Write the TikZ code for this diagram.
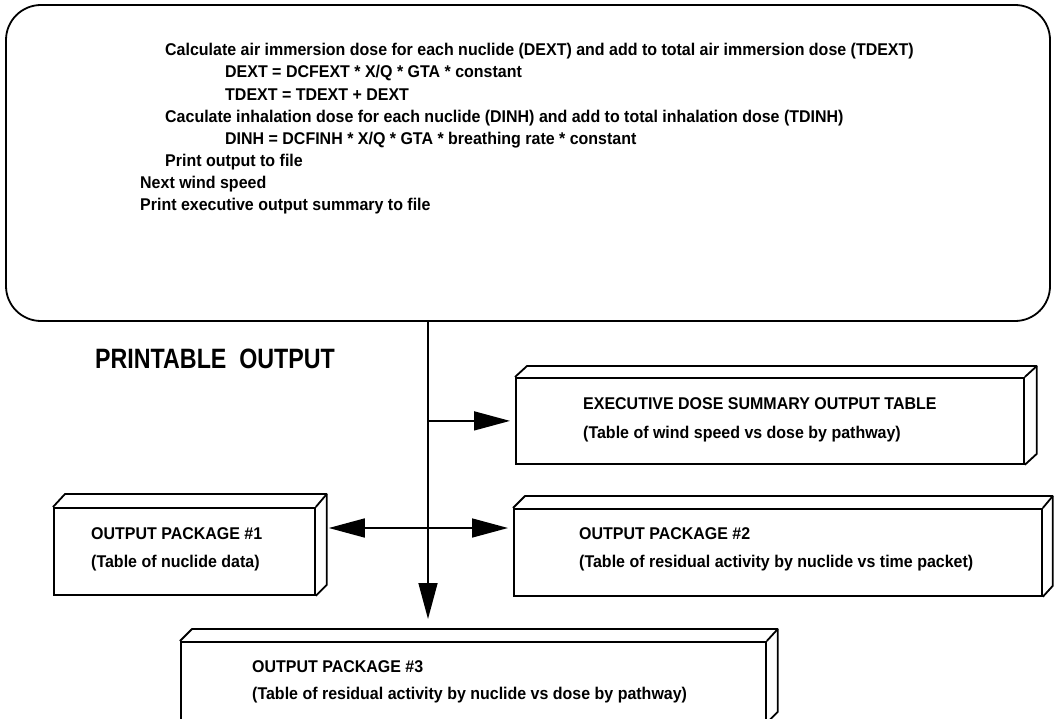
\documentclass[tikz,border=0pt]{standalone}
\usepackage{fontspec}
\setmainfont{Liberation Sans}
\newfontfamily\scanfont{Liberation Sans}[FakeStretch=0.94]
\newfontfamily\headfont{Liberation Sans}[FakeStretch=0.83]
\usetikzlibrary{arrows.meta,calc}
\begin{document}
\begin{tikzpicture}[x=1pt,y=-1pt,
  face/.style={draw, line width=1.8pt, line join=round},
  front/.style={draw, line width=1.8pt, inner sep=0pt, anchor=north west},
  conn/.style={line width=1.6pt},
  tipa/.style={-{Triangle[length=36pt,width=19pt]}},
  tipb/.style={{Triangle[length=36pt,width=19pt]}-{Triangle[length=36pt,width=19pt]}},
  txt/.style={anchor=west, inner sep=0pt, text height=12pt, text depth=3pt,
              font=\scanfont\bfseries\fontsize{17}{20}\selectfont},
  headtxt/.style={anchor=west, inner sep=0pt, font=\headfont\bfseries\fontsize{28}{32}\selectfont}
]
\useasboundingbox (0,0) rectangle (1054,719);
\fill[white] (0,0) rectangle (1054,719);

% top rounded box
\node[draw, line width=1.8pt, rounded corners=35pt, minimum width=1044pt,
      minimum height=316pt, inner sep=0pt] (top) at (528,163) {};

\node[txt] (t1) at (165,51)  {Calculate air immersion dose for each nuclide (DEXT) and add to total air immersion dose (TDEXT)};
\node[txt] (t2) at (225,73)  {DEXT = DCFEXT * X/Q * GTA * constant};
\node[txt] (t3) at (225,96)  {TDEXT = TDEXT + DEXT};
\node[txt] (t4) at (165,118) {Caculate inhalation dose for each nuclide (DINH) and add to total inhalation dose (TDINH)};
\node[txt] (t5) at (225,140) {DINH = DCFINH * X/Q * GTA * breathing rate * constant};
\node[txt] (t6) at (165,162) {Print output to file};
\node[txt] (t7) at (140,184) {Next wind speed};
\node[txt] (t8) at (140,206) {Print executive output summary to file};

% heading
\node[headtxt] (head) at (95,359) {PRINTABLE\ \ OUTPUT};

% executive box
\node[front, minimum width=508pt, minimum height=86pt] (exec) at (515,377) {};
\draw[face] (exec.north west) -- ++(12,-11) -- ($(exec.north east)+(12,-11)$)
            -- ($(exec.south east)+(12,-11)$) -- (exec.south east);
\draw[face] (exec.north east) -- ++(12,-11);
\node[txt] (e1) at (583,405) {EXECUTIVE DOSE SUMMARY OUTPUT TABLE};
\node[txt] (e2) at (583,434) {(Table of wind speed vs dose by pathway)};

% output package 1
\node[front, minimum width=261pt, minimum height=87pt] (pk1) at (53,507) {};
\draw[face] (pk1.north west) -- ++(12,-13) -- ($(pk1.north east)+(11,-13)$)
            -- ($(pk1.south east)+(11,-11)$) -- (pk1.south east);
\draw[face] (pk1.north east) -- ++(11,-13);
\node[txt] (p1a) at (91,535) {OUTPUT PACKAGE \#1};
\node[txt] (p1b) at (91,563) {(Table of nuclide data)};

% output package 2
\node[front, minimum width=528pt, minimum height=87pt] (pk2) at (513,508) {};
\draw[face] (pk2.north west) -- ++(12,-12) -- ($(pk2.north east)+(10,-12)$)
            -- ($(pk2.south east)+(10,-11)$) -- (pk2.south east);
\draw[face] (pk2.north east) -- ++(10,-12);
\node[txt] (p2a) at (579,535) {OUTPUT PACKAGE \#2};
\node[txt] (p2b) at (579,563) {(Table of residual activity by nuclide vs time packet)};

% output package 3
\node[front, minimum width=585pt, minimum height=80pt] (pk3) at (180,641) {};
\draw[face] (pk3.north west) -- ++(12,-12) -- ($(pk3.north east)+(11,-12)$)
            -- ($(pk3.south east)+(11,-11)$) -- (pk3.south east);
\draw[face] (pk3.north east) -- ++(11,-12);
\node[txt] (p3a) at (252,668) {OUTPUT PACKAGE \#3};
\node[txt] (p3b) at (252,695) {(Table of residual activity by nuclide vs dose by pathway)};

% connectors
\coordinate (v) at (428,0);
\coordinate (h2) at (0,528);
\draw[conn, tipa] (top.south -| v) -- ($(pk3.north -| v)+(0,-22)$);
\draw[conn, tipa] (v |- exec.west) -- ($(exec.west)+(-5,0)$);
\draw[conn, tipb] ($(pk1.east |- h2)+(13,0)$) -- ($(pk2.west |- h2)+(-5,0)$);
\end{tikzpicture}
\end{document}
